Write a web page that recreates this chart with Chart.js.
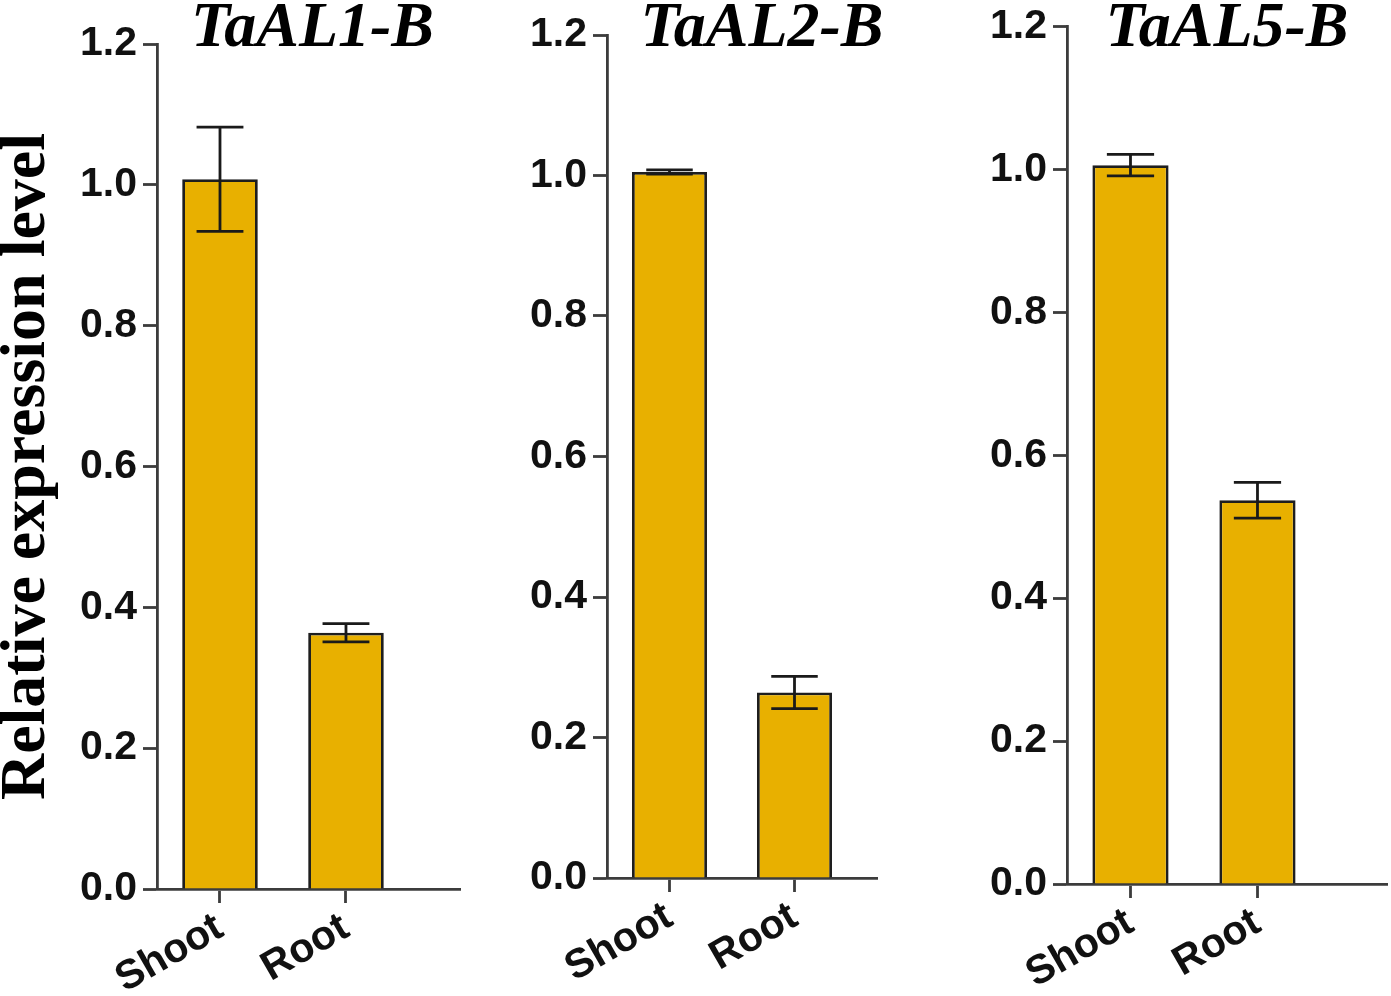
<!DOCTYPE html>
<html><head><meta charset="utf-8">
<script src="https://cdn.jsdelivr.net/npm/chart.js@4.4.0/dist/chart.umd.min.js"></script>
<style>
html,body{margin:0;padding:0;background:#fff;}
body{width:1391px;height:996px;position:relative;overflow:hidden;}
.panel{position:absolute;top:0;}
</style></head><body>
<div id="p0" class="panel"><canvas id="c0"></canvas></div>
<div id="p1" class="panel"><canvas id="c1"></canvas></div>
<div id="p2" class="panel"><canvas id="c2"></canvas></div>
<script>
// ---------- data ----------
const categories = ['Shoot', 'Root'];
const genes = ['TaAL1-B', 'TaAL2-B', 'TaAL5-B'];
const TaAL1B_mean = [1.008, 0.364];
const TaAL1B_err  = [0.074, 0.013];
const TaAL2B_mean = [1.005, 0.264];
const TaAL2B_err  = [0.003, 0.023];
const TaAL5B_mean = [1.006, 0.537];
const TaAL5B_err  = [0.015, 0.025];
const yTickValues = [0, 0.2, 0.4, 0.6, 0.8, 1.0, 1.2];
const yAxisTitle = 'Relative expression level';

const means = [TaAL1B_mean, TaAL2B_mean, TaAL5B_mean];
const errs  = [TaAL1B_err, TaAL2B_err, TaAL5B_err];

// ---------- layout (panel frames) ----------
const H = 996;
const frames = [
  {canvasLeft: 0,   axisX: 157,  top: 44, bottom: 889, right: 460,  xMax: 1.905, titleDx: 4},
  {canvasLeft: 507, axisX: 607,  top: 35, bottom: 878, right: 877,  xMax: 1.66,  titleDx: 20},
  {canvasLeft: 967, axisX: 1067, top: 21, bottom: 884, right: 1387, xMax: 2.02,  titleDx: 0}
];

const AXIS = '#3c3c3c';
const BAR_FILL = '#E8B000';
const BAR_EDGE = '#1e1e1e';
const LABEL_FONT = {family: '"Liberation Sans", Arial, sans-serif', size: 41, weight: 'bold', lineHeight: 1};

Chart.defaults.font.family = '"Liberation Sans", Arial, sans-serif';
Chart.defaults.color = '#111';

const errorBarPlugin = {
  id: 'errorBars',
  afterDatasetsDraw(chart, args, opts) {
    const {ctx, scales: {x, y}} = chart;
    const meta = chart.getDatasetMeta(0);
    ctx.save();
    ctx.strokeStyle = '#1a1a1a';
    ctx.lineWidth = 2.8;
    opts.means.forEach((m, i) => {
      const e = opts.errs[i];
      const px = x.getPixelForValue(i);
      const yt = y.getPixelForValue(m + e);
      const yb = y.getPixelForValue(m - e);
      const cap = meta.data[i].width * 0.62 / 2;
      ctx.beginPath();
      ctx.moveTo(px, yt); ctx.lineTo(px, yb);
      ctx.moveTo(px - cap, yt); ctx.lineTo(px + cap, yt);
      ctx.moveTo(px - cap, yb); ctx.lineTo(px + cap, yb);
      ctx.stroke();
    });
    ctx.restore();
  }
};

const geneTitlePlugin = {
  id: 'geneTitle',
  afterDraw(chart, args, opts) {
    const {ctx, chartArea} = chart;
    ctx.save();
    ctx.font = 'italic bold 64px "Liberation Serif"';
    ctx.fillStyle = '#000';
    ctx.textAlign = 'center';
    ctx.textBaseline = 'alphabetic';
    ctx.fillText(opts.text, (chartArea.left + chartArea.right) / 2 + opts.dx, opts.baseline);
    ctx.restore();
  }
};

frames.forEach((f, k) => {
  const div = document.getElementById('p' + k);
  div.style.left = f.canvasLeft + 'px';
  const cv = document.getElementById('c' + k);
  cv.width = f.right - f.canvasLeft + 4;
  cv.height = H;
  cv.style.width = cv.width + 'px';
  cv.style.height = H + 'px';

  new Chart(cv, {
    type: 'bar',
    data: {
      datasets: [{
        data: means[k].map((v, i) => ({x: i, y: v})),
        backgroundColor: BAR_FILL,
        borderColor: BAR_EDGE,
        borderWidth: 2.8,
        borderSkipped: 'start',
        categoryPercentage: 1,
        barPercentage: 0.6
      }]
    },
    options: {
      responsive: false,
      animation: false,
      events: [],
      layout: {padding: {top: f.top, right: 4, left: 0, bottom: 0}},
      plugins: {
        legend: {display: false},
        tooltip: {enabled: false},
        errorBars: {means: means[k], errs: errs[k]},
        geneTitle: {text: genes[k], dx: f.titleDx, baseline: 46}
      },
      scales: {
        x: {
          type: 'linear',
          min: -0.5,
          max: f.xMax,
          offset: false,
          afterBuildTicks: s => { s.ticks = categories.map((c, i) => ({value: i})); },
          afterFit: s => { s.height = H - f.bottom; },
          grid: {offset: false, drawOnChartArea: false, tickLength: 14, tickWidth: 2.8, tickColor: AXIS},
          border: {display: true, color: AXIS, width: 2.8},
          ticks: {
            autoSkip: false,
            minRotation: 30, maxRotation: 30,
            padding: 4,
            color: '#111',
            font: LABEL_FONT,
            callback: v => categories[v] ?? ''
          }
        },
        y: {
          type: 'linear',
          min: 0, max: 1.2,
          afterBuildTicks: s => { s.ticks = yTickValues.map(v => ({value: v})); },
          afterFit: s => { s.width = f.axisX - f.canvasLeft; },
          grid: {drawOnChartArea: false, tickLength: 14, tickWidth: 2.8, tickColor: AXIS},
          border: {display: true, color: AXIS, width: 2.8},
          ticks: {
            padding: 6,
            color: '#111',
            font: LABEL_FONT,
            callback: v => Number(v).toFixed(1)
          },
          title: {
            display: k === 0,
            text: yAxisTitle,
            color: '#000',
            font: {family: '"Liberation Serif", "Times New Roman", serif', weight: 'bold', size: 64, lineHeight: 1},
            padding: {top: -5, bottom: 0}
          }
        }
      }
    },
    plugins: [errorBarPlugin, geneTitlePlugin]
  });
});
</script>
</body></html>
